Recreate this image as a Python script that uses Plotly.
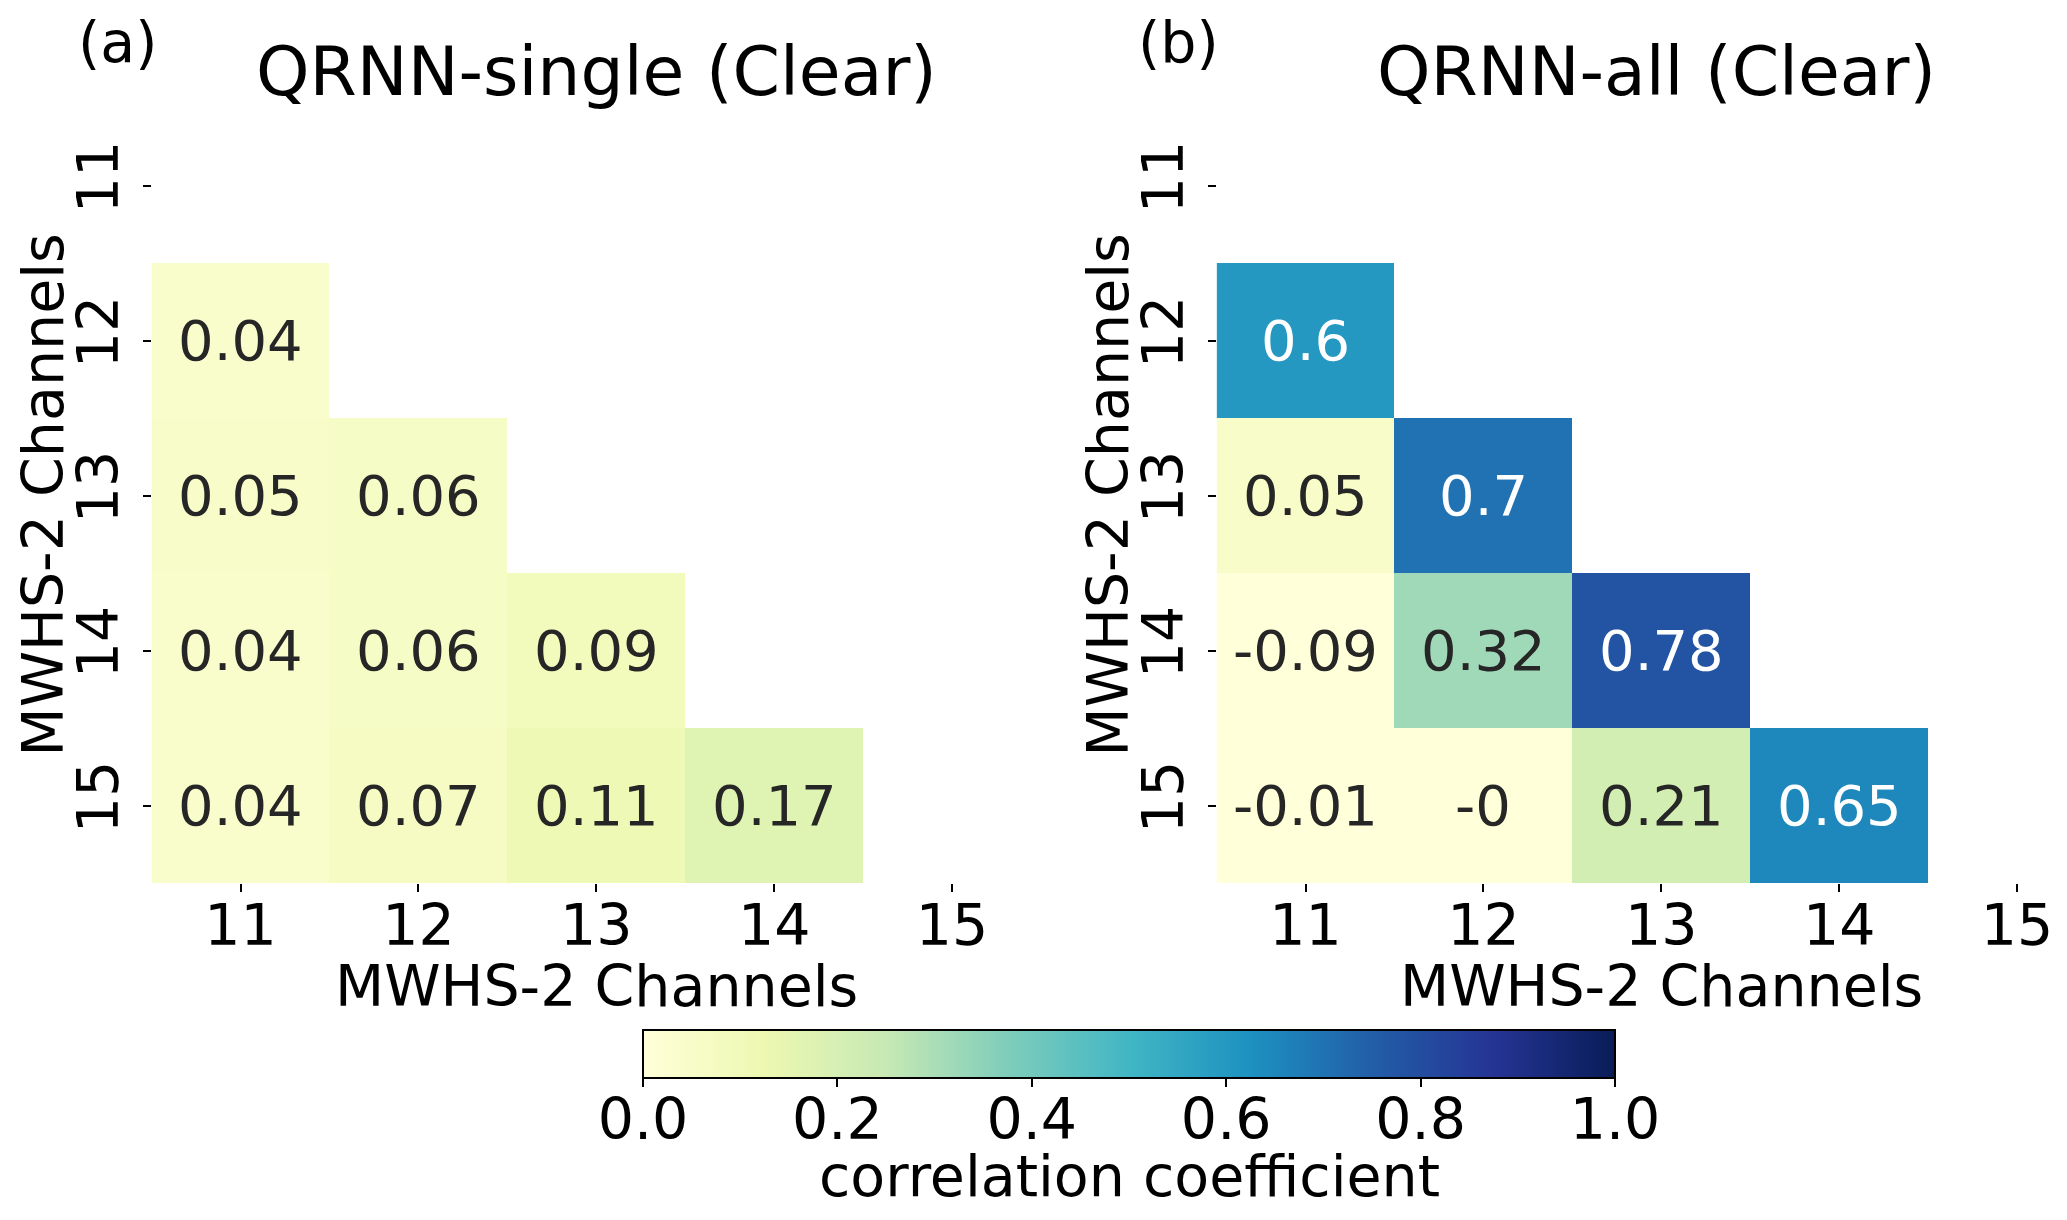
import plotly.graph_objects as go


W, H = 2067, 1220
OFF = 8  # the page body margin pushes the figure 8px right and down

channels = ["11", "12", "13", "14", "15"]

# lower triangle, rows 12..15 (row 11 and the diagonal are masked)
single_rows = [
    [],
    [0.04],
    [0.05, 0.06],
    [0.04, 0.06, 0.09],
    [0.04, 0.07, 0.11, 0.17],
]
all_rows = [
    [],
    [0.6],
    [0.05, 0.7],
    [-0.09, 0.32, 0.78],
    [-0.01, -0.0, 0.21, 0.65],
]

cbar_ticks = [0.0, 0.2, 0.4, 0.6, 0.8, 1.0]

YLGNBU = ["#ffffd9", "#edf8b1", "#c7e9b4", "#7fcdbb", "#41b6c4",
          "#1d91c0", "#225ea8", "#253494", "#081d58"]
FONT = "DejaVu Sans"

FW, FH = W - OFF, H - OFF


def px_x(p):
    return (p - OFF) / FW


def px_y(p):
    return 1 - (p - OFF) / FH


def full_matrix(rows):
    n = len(channels)
    return [r + [None] * (n - len(r)) for r in rows]


def cell_notes(rows, xref, yref):
    notes = []
    for i, r in enumerate(rows):
        for j, v in enumerate(r):
            # category axes: place by category index
            notes.append(dict(
                x=j, y=i, xref=xref, yref=yref,
                text=f"{v:.2g}", showarrow=False,
                font=dict(family=FONT, size=56,
                          color="white" if v > 0.5 else "#262626")))
    return notes


def main():
    fig = go.Figure()

    fig.add_trace(go.Heatmap(z=full_matrix(single_rows), x=channels, y=channels,
                             coloraxis="coloraxis", hoverongaps=False,
                             xaxis="x", yaxis="y"))
    fig.add_trace(go.Heatmap(z=full_matrix(all_rows), x=channels, y=channels,
                             coloraxis="coloraxis", hoverongaps=False,
                             xaxis="x2", yaxis="y2"))
    # empty trace so the colour bar's tick axis gets drawn
    fig.add_trace(go.Scatter(x=[], y=[], xaxis="x3", yaxis="y3",
                             hoverinfo="skip"))

    cell_w = (1041 - 151.6) / 5
    right_end = -0.5 + (W - 1216.6) / cell_w

    tick_style = dict(
        ticks="outside",
        ticklen=8,
        tickwidth=2,
        tickcolor="black",
        showgrid=False,
        zeroline=False,
        showline=False,
        tickfont=dict(family=FONT, size=57, color="black"),
    )
    axis_common = dict(type="category", **tick_style)
    x_common = dict(ticklabelstandoff=-15, **axis_common)
    y_common = dict(tickangle=-90, ticklabelstandoff=2, **axis_common)

    bar_left, bar_right, bar_top, bar_bottom = 643, 1615, 1030, 1078

    fig.update_layout(
        width=FW,
        height=FH,
        margin=dict(l=0, r=0, t=0, b=0, autoexpand=False),
        paper_bgcolor="white",
        plot_bgcolor="white",
        showlegend=False,
        xaxis=dict(domain=[px_x(151.6), px_x(1041)], range=[-0.5, 4.5],
                   anchor="y", **x_common),
        yaxis=dict(domain=[px_y(883), px_y(108)], range=[4.5, -0.5],
                   anchor="x", **y_common),
        xaxis2=dict(domain=[px_x(1216.6), 1.0], range=[-0.5, right_end],
                    anchor="y2", **x_common),
        yaxis2=dict(domain=[px_y(883), px_y(108)], range=[4.5, -0.5],
                    anchor="x2", **y_common),
        # tick axis laid under the colour bar
        xaxis3=dict(domain=[px_x(bar_left), px_x(bar_right)], range=[0, 1],
                    anchor="y3", tickvals=cbar_ticks, tickformat=".1f",
                    ticklabelstandoff=-16, fixedrange=True, **tick_style),
        yaxis3=dict(domain=[px_y(bar_bottom), px_y(bar_top)], range=[0, 1],
                    anchor="x3", visible=False, fixedrange=True),
        coloraxis=dict(
            cmin=0, cmax=1,
            colorscale=[[i / 8, c] for i, c in enumerate(YLGNBU)],
            colorbar=dict(
                orientation="h",
                x=px_x((bar_left + bar_right) / 2), xanchor="center",
                y=px_y(bar_top), yanchor="top",
                len=(bar_right - bar_left) / FW, lenmode="fraction",
                thickness=bar_bottom - bar_top, thicknessmode="pixels",
                outlinewidth=2, outlinecolor="black",
                xpad=0, ypad=0,
                ticks="", showticklabels=False,
            ),
        ),
    )

    labels = [
        dict(x=596, y=71, text="QRNN-single (Clear)", size=68),
        dict(x=1656, y=71, text="QRNN-all (Clear)", size=68),
        dict(x=596, y=986, text="MWHS-2 Channels", size=57),
        dict(x=1661, y=986, text="MWHS-2 Channels", size=57),
        dict(x=1129, y=1176, text="correlation coefficient", size=57),
    ]
    notes = []
    for lb in labels:
        notes.append(dict(x=px_x(lb["x"]), y=px_y(lb["y"]),
                          xref="paper", yref="paper",
                          text=lb["text"], showarrow=False,
                          xanchor="center", yanchor="middle",
                          font=dict(family=FONT, size=lb["size"], color="black")))
    for xp, tag in ((117, "(a)"), (1178, "(b)")):
        notes.append(dict(x=px_x(xp), y=1.0, xref="paper", yref="paper",
                          text=tag, showarrow=False, borderpad=0,
                          xanchor="center", yanchor="top",
                          font=dict(family=FONT, size=57, color="black")))
    for xp in (42, 1107):
        notes.append(dict(x=px_x(xp), y=px_y(495.5), xref="paper", yref="paper",
                          text="MWHS-2 Channels", showarrow=False, textangle=-90,
                          xanchor="center", yanchor="middle",
                          font=dict(family=FONT, size=57, color="black")))

    notes += cell_notes(single_rows, "x", "y")
    notes += cell_notes(all_rows, "x2", "y2")
    fig.update_layout(annotations=notes)

    fig.write_html("out.html")


if __name__ == "__main__":
    main()
